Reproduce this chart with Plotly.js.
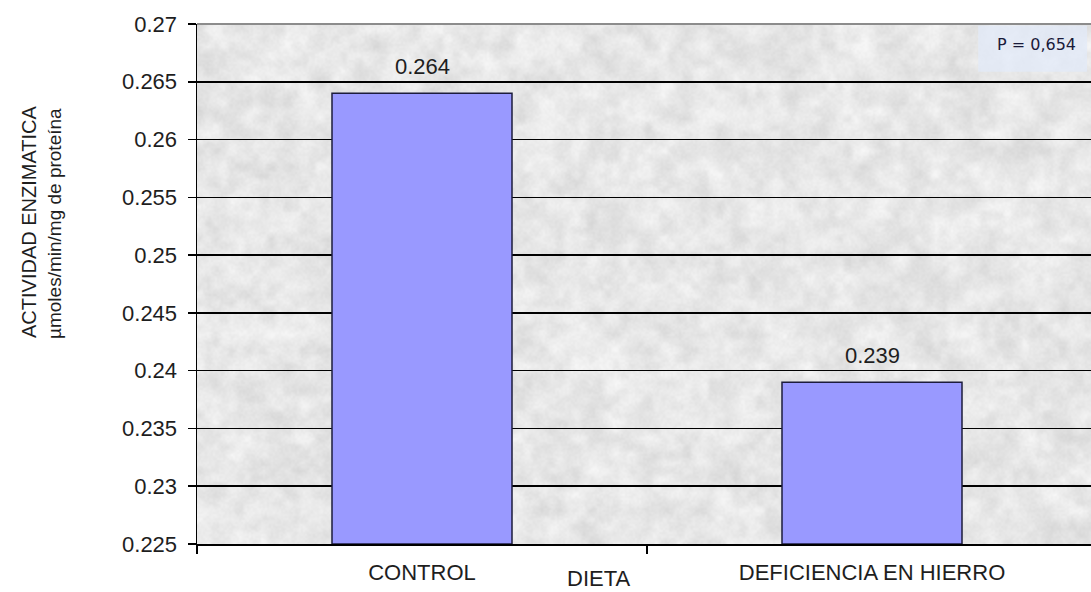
<!DOCTYPE html>
<html>
<head>
<meta charset="utf-8">
<script src="https://cdn.plot.ly/plotly-3.0.1.min.js"></script>
<style>
  html, body { margin: 0; padding: 0; background: #ffffff; overflow: hidden; }
  #chart { width: 1097px; height: 592px; }
</style>
</head>
<body>
<div id="chart"></div>
<script>
// Enzyme activity by diet group
const categories = ["CONTROL", "DEFICIENCIA EN HIERRO"];
const actividad = [0.264, 0.239];
const yTicks = [0.225, 0.23, 0.235, 0.24, 0.245, 0.25, 0.255, 0.26, 0.265, 0.27];
const yTickLabels = ["0.225", "0.23", "0.235", "0.24", "0.245", "0.25", "0.255", "0.26", "0.265", "0.27"];
const pValueText = "P = 0,654";
const xTitle = "DIETA";
const yTitleLines = ["ACTIVIDAD ENZIMATICA", "µmoles/min/mg de proteína"];
const yFloor = 0.225;

// Granite-like fill for the plot area, built from a deterministic hash noise
function graniteTexture(w, h) {
  const c = document.createElement("canvas");
  c.width = w; c.height = h;
  const ctx = c.getContext("2d");
  const img = ctx.createImageData(w, h);
  const hash = (x, y) => {
    const s = Math.sin(x * 12.9898 + y * 78.233) * 43758.5453;
    return s - Math.floor(s);
  };
  const smooth = (x, y, cell) => {
    const gx = Math.floor(x / cell), gy = Math.floor(y / cell);
    const fx = x / cell - gx, fy = y / cell - gy;
    const a = hash(gx, gy), b = hash(gx + 1, gy);
    const d = hash(gx, gy + 1), e = hash(gx + 1, gy + 1);
    const ux = fx * fx * (3 - 2 * fx), uy = fy * fy * (3 - 2 * fy);
    return (a * (1 - ux) + b * ux) * (1 - uy) + (d * (1 - ux) + e * ux) * uy;
  };
  for (let y = 0; y < h; y++) {
    for (let x = 0; x < w; x++) {
      const n = 0.45 * smooth(x, y, 9) + 0.35 * smooth(x + 31, y + 17, 4) + 0.2 * hash(x, y);
      const v = Math.round(212 + n * 38);
      const i = (y * w + x) * 4;
      img.data[i] = v; img.data[i + 1] = v; img.data[i + 2] = v; img.data[i + 3] = 255;
    }
  }
  ctx.putImageData(img, 0, 0);
  return c.toDataURL("image/png");
}

const font = "Liberation Sans, Arial, sans-serif";
const textColor = "#1e1e1e";

// bars rise from the axis floor, so heights are value minus floor
const trace = {
  type: "bar",
  x: categories,
  y: actividad.map(v => v - yFloor),
  base: yFloor,
  width: 0.4,
  marker: { color: "#9999ff", line: { color: "#1c1c3c", width: 1.5 } },
  hoverinfo: "x+y"
};

const valueLabels = categories.map((c, i) => ({
  x: c, y: actividad[i], xref: "x", yref: "y",
  text: actividad[i].toFixed(3), showarrow: false,
  xanchor: "center", yanchor: "bottom", yshift: 12,
  font: { family: font, size: 22, color: textColor }
}));

const layout = {
  width: 1097, height: 592,
  margin: { l: 197, r: 0, t: 24, b: 48, pad: 0 },
  paper_bgcolor: "#ffffff",
  plot_bgcolor: "#e6e6e6",
  showlegend: false,
  bargap: 0.6,
  xaxis: {
    type: "category",
    range: [-0.5, 1.5],
    tickson: "boundaries",
    ticks: "outside", ticklen: 8, tickwidth: 1.5, tickcolor: "#000000",
    showgrid: false, zeroline: false,
    showline: true, linecolor: "#000000", linewidth: 1.5,
    tickfont: { family: font, size: 22, color: textColor },
    ticklabelstandoff: 8
  },
  yaxis: {
    range: [yFloor, 0.27],
    tickvals: yTicks, ticktext: yTickLabels,
    ticks: "outside", ticklen: 8, tickwidth: 1.5, tickcolor: "#000000",
    showgrid: true, gridcolor: "#000000", gridwidth: 1.6,
    zeroline: false,
    showline: true, linecolor: "#000000", linewidth: 1.5,
    tickfont: { family: font, size: 22, color: textColor },
    ticklabelstandoff: 6
  },
  images: [{
    source: graniteTexture(450, 260),
    xref: "paper", yref: "paper", x: 0, y: 1, sizex: 1, sizey: 1,
    sizing: "stretch", layer: "below", xanchor: "left", yanchor: "top"
  }],
  shapes: [
    // grey frame line along the top of the plot area
    { type: "line", xref: "paper", yref: "paper", x0: 0, x1: 1, y0: 1, y1: 1,
      line: { color: "#8c8c8c", width: 2 } },
    // pale box behind the P value
    { type: "rect", xref: "paper", yref: "paper", x0: 0.868, x1: 0.989, y0: 0.908, y1: 0.997,
      fillcolor: "rgba(226,234,248,0.75)", line: { width: 0 }, layer: "below" }
  ],
  annotations: valueLabels.concat([
    { xref: "paper", yref: "paper", x: 0.933, y: 0.96, xanchor: "center", yanchor: "middle",
      text: pValueText, showarrow: false,
      font: { family: "DejaVu Sans, sans-serif", size: 16, color: "#1a1a3a" } },
    { xref: "paper", yref: "paper", x: 0.446, y: 0, xanchor: "center", yanchor: "middle",
      yshift: -34, text: xTitle, showarrow: false,
      font: { family: font, size: 22, color: textColor } },
    { xref: "paper", yref: "paper", x: 0, y: 0.5, xanchor: "center", yanchor: "middle",
      xshift: -168, yshift: 62, text: yTitleLines[0],
      textangle: -90, showarrow: false, font: { family: font, size: 20, color: textColor } },
    { xref: "paper", yref: "paper", x: 0, y: 0.5, xanchor: "center", yanchor: "middle",
      xshift: -143, yshift: 60, text: yTitleLines[1],
      textangle: -90, showarrow: false, font: { family: font, size: 19, color: textColor } }
  ])
};

Plotly.newPlot("chart", [trace], layout, { displayModeBar: false, staticPlot: true });
</script>
</body>
</html>
